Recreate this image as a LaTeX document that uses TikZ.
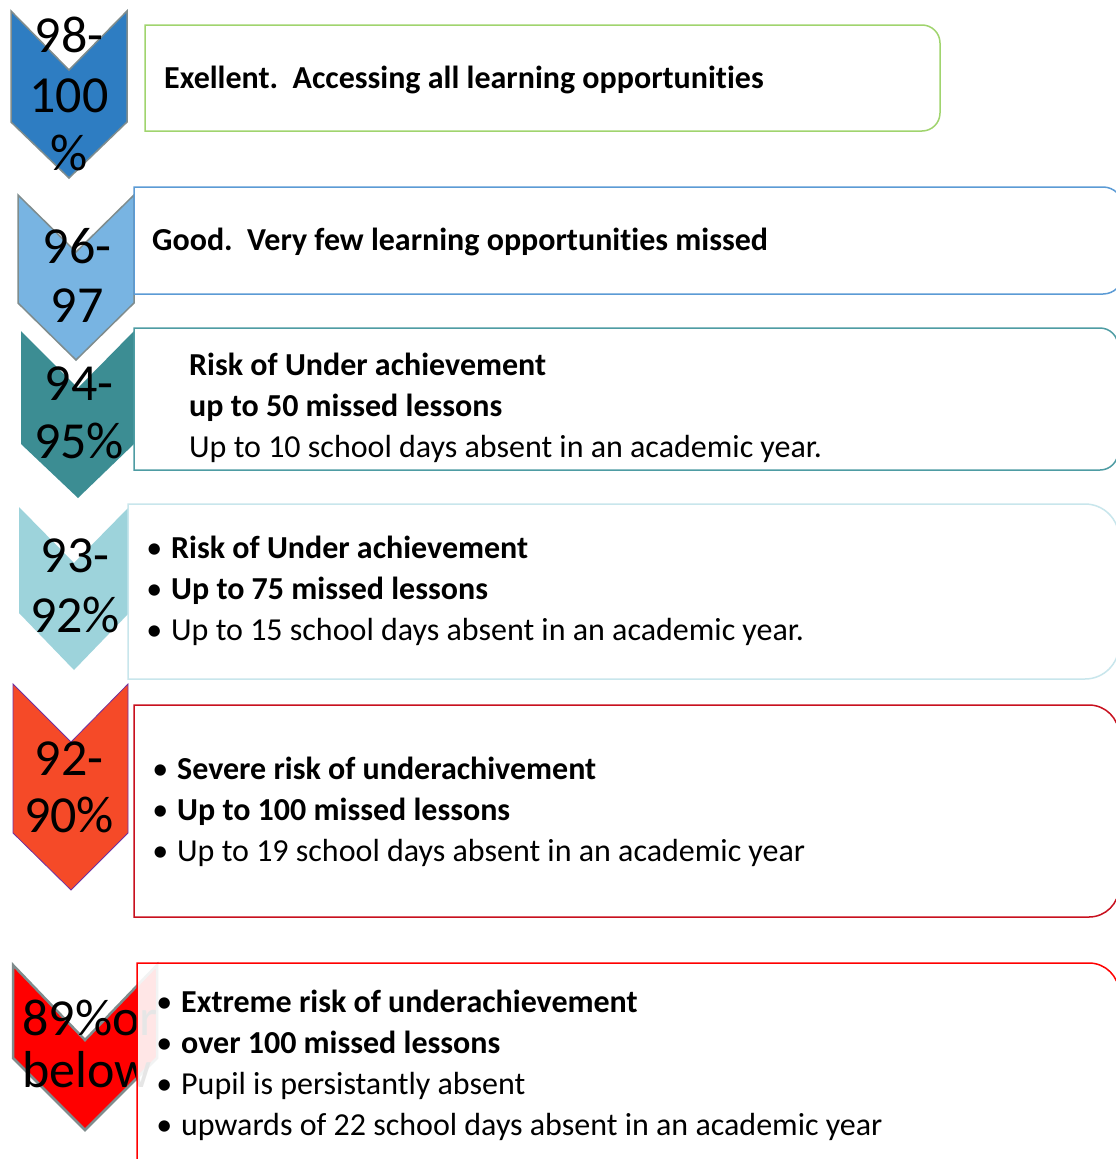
\documentclass[tikz,border=0pt]{standalone}
\usepackage{fontspec}
\setmainfont{Carlito}[Ligatures=NoCommon, RawFeature={-liga;-clig;-calt}]
\definecolor{cA}{HTML}{2E7DC2}
\definecolor{cB}{HTML}{78B4E2}
\definecolor{cC}{HTML}{3C8D93}
\definecolor{cD}{HTML}{9DD3DB}
\definecolor{cE}{HTML}{F54A28}
\definecolor{cF}{HTML}{FF0000}
\definecolor{chgray}{HTML}{7F8C8D}
\definecolor{chpurple}{HTML}{7030A0}
\definecolor{bA}{HTML}{A0D46E}
\definecolor{bB}{HTML}{5B9BD5}
\definecolor{bC}{HTML}{4E9CA3}
\definecolor{bD}{HTML}{C8E6EC}
\definecolor{bE}{HTML}{C8101E}
\definecolor{bF}{HTML}{FF0000}
\newcommand{\rrbox}[6]{%
\path[#1] (#2,#3) -- ({#4-#6},#3) .. controls ({#4-0.448*#6},#3) and (#4,{#3+0.448*#6}) .. (#4,{#3+#6}) -- (#4,{#5-#6}) .. controls (#4,{#5-0.448*#6}) and ({#4-0.448*#6},#5) .. ({#4-#6},#5) -- (#2,#5) -- cycle;}
\tikzset{
  pct/.style={anchor=base, inner sep=0pt, font=\fontsize{52}{60}\selectfont},
  txt/.style={anchor=base west, inner sep=0pt, font=\fontsize{32}{41}\selectfont},
  btxt/.style={txt, font=\fontsize{32}{41}\selectfont\bfseries},
  boxstyle/.style={fill=white, fill opacity=0.9, line width=1.5pt}
}
\newcommand{\bul}{\llap{\mdseries•\hspace{9pt}}}
\begin{document}
\begin{tikzpicture}[x=1pt,y=-1pt]
\useasboundingbox (0,0) rectangle (1116,1159);
\clip (0,0) rectangle (1116,1159);
\fill[white] (0,0) rectangle (1116,1159);
% chevrons (bottom to top)
\draw[fill=cF, draw=chgray, line width=2.5pt, line join=miter] (13,965) -- (85,1040) -- (157,965) -- (157,1058) -- (85,1130) -- (13,1058) -- cycle;
\draw[fill=cE, draw=chpurple, line width=0.8pt] (13,684) -- (71,742) -- (128,684) -- (128,833) -- (71,890) -- (13,833) -- cycle;
\fill[cD] (19,507) -- (74,563) -- (129,507) -- (129,613) -- (74,670) -- (19,613) -- cycle;
\fill[cC] (21,331) -- (78,388) -- (134,331) -- (134,444) -- (78,498) -- (21,444) -- cycle;
\draw[fill=cB, draw=chgray, line width=1.5pt] (18,195) -- (76,252) -- (134,195) -- (134,303) -- (76,360) -- (18,303) -- cycle;
\draw[fill=cA, draw=chgray, line width=1.5pt] (11,11) -- (69,70) -- (127,11) -- (127,122) -- (69,178) -- (11,122) -- cycle;
% chevron labels
\node[pct] (p1a) at (69,52) {98-};
\node[pct] (p1b) at (69,112) {100};
\node[pct] (p1c) at (69,170) {\%};
\node[pct] (p2a) at (77,263) {96-};
\node[pct] (p2b) at (77,322) {97};
\node[pct] (p3a) at (79,400) {94-};
\node[pct] (p3b) at (79,458) {95\%};
\node[pct] (p4a) at (75,572) {93-};
\node[pct] (p4b) at (75,632) {92\%};
\node[pct] (p5a) at (69,775) {92-};
\node[pct] (p5b) at (69,832) {90\%};
\node[pct] (p6a) at (90,1035) {89\%or};
\node[pct] (p6b) at (87,1087) {below};
% boxes
\rrbox{boxstyle, draw=bA}{145}{25}{940}{131}{18}
\rrbox{boxstyle, draw=bB}{134}{187}{1123}{294}{20}
\rrbox{boxstyle, draw=bC}{134}{328}{1118}{470}{18}
\rrbox{boxstyle, draw=bD}{128}{504}{1119}{679}{34}
\rrbox{boxstyle, draw=bE}{134}{705}{1119}{917}{30}
\rrbox{boxstyle, draw=bF}{137}{963}{1119}{1200}{30}
% box texts
\node[btxt] (t1) at (164,88) {Exellent.~~Accessing all learning opportunities};
\node[btxt] (t2) at (152,250) {Good.~~Very few learning opportunities missed};
\node[btxt] (t3a) at (189,375) {Risk of Under achievement};
\node[btxt] (t3b) at (189,416) {up to 50 missed lessons};
\node[txt] (t3c) at (189,457) {Up to 10 school days absent in an academic year.};
\node[btxt] (t4a) at (171,558) {\bul Risk of Under achievement};
\node[btxt] (t4b) at (171,599) {\bul Up to 75 missed lessons};
\node[txt] (t4c) at (171,640) {\bul Up to 15 school days absent in an academic year.};
\node[btxt] (t5a) at (177,779) {\bul Severe risk of underachivement};
\node[btxt] (t5b) at (177,820) {\bul Up to 100 missed lessons};
\node[txt] (t5c) at (177,861) {\bul Up to 19 school days absent in an academic year};
\node[btxt] (t6a) at (181,1012) {\bul Extreme risk of underachievement};
\node[btxt] (t6b) at (181,1053) {\bul over 100 missed lessons};
\node[txt] (t6c) at (181,1094) {\bul Pupil is persistantly absent};
\node[txt] (t6d) at (181,1135) {\bul upwards of 22 school days absent in an academic year};
\end{tikzpicture}
\end{document}
